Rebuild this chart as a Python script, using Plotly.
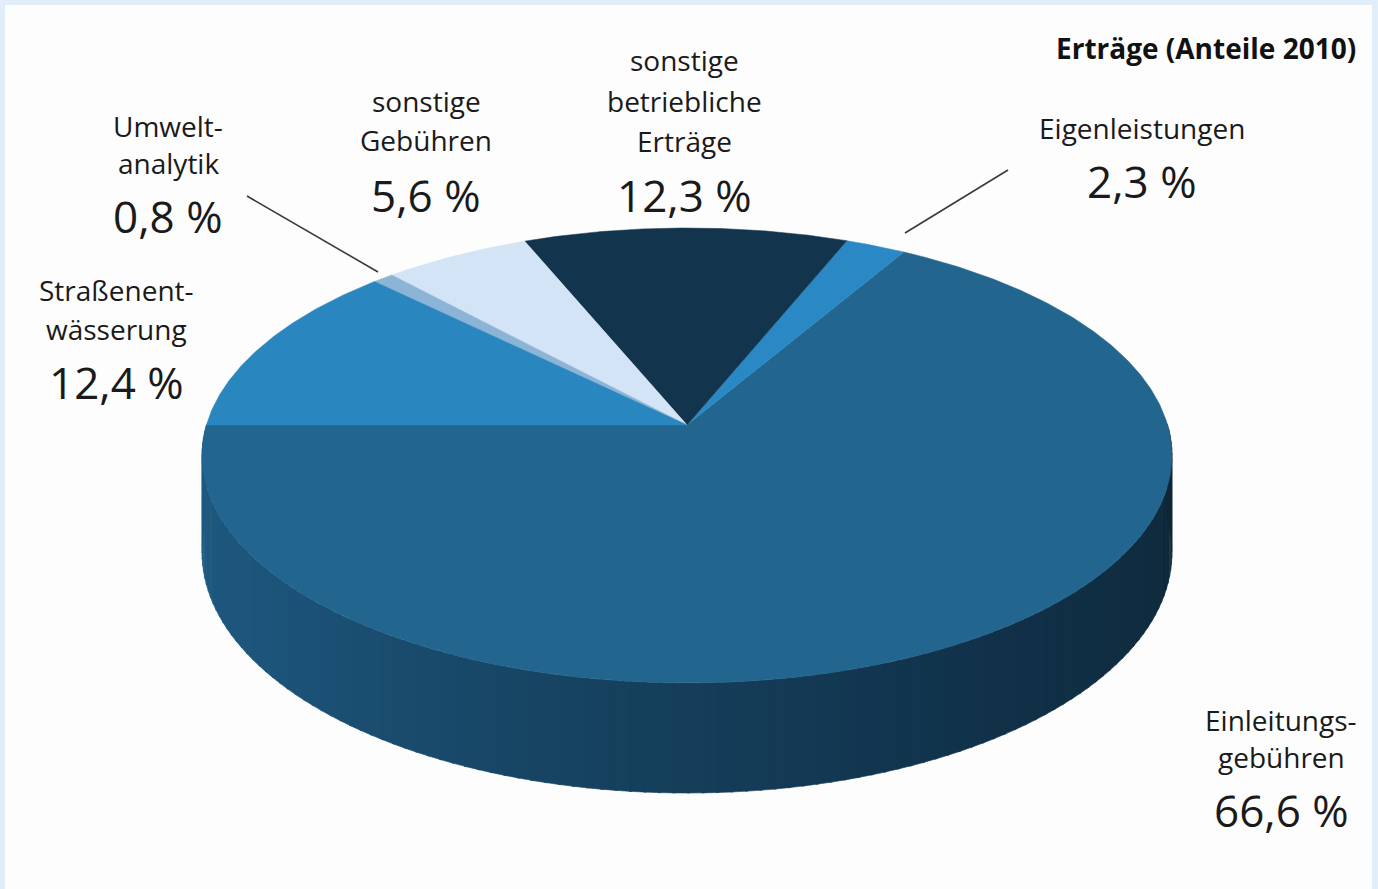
import numpy as np
import plotly.graph_objects as go

# Revenue shares 2010 (percent), in drawing order starting at 9 o'clock, running through the front
categories = ["Einleitungsgebühren", "Eigenleistungen", "sonstige betriebliche Erträge",
              "sonstige Gebühren", "Umweltanalytik", "Straßenentwässerung"]
shares = [66.6, 2.3, 12.3, 5.6, 0.8, 12.4]
label_lines = [["Einleitungs-", "gebühren"], ["Eigenleistungen"],
               ["sonstige", "betriebliche", "Erträge"], ["sonstige", "Gebühren"],
               ["Umwelt-", "analytik"], ["Straßenent-", "wässerung"]]
top_colors = ["#22658f", "#2a89c4", "#12344d", "#d3e4f7", "#8cb4d7", "#2a86be"]
title_text = "Erträge (Anteile 2010)"

W, H = 1378, 889
# Projected disc: centre, radii, perspective factor and thickness
CX, CY = 687.0, 425.0
SX, SY = 480.6, 223.4
K = 0.134
DEPTH = 95.3
START = 180.0


def project(theta_deg, drop=0.0):
    t = np.radians(theta_deg)
    u, v = np.cos(t), np.sin(t)
    w = 1 + K * v
    return CX + SX * u / w, CY - SY * v / w + drop / w


def mix(c1, c2, f):
    a = [int(c1[i:i + 2], 16) for i in (1, 3, 5)]
    b = [int(c2[i:i + 2], 16) for i in (1, 3, 5)]
    return "#%02x%02x%02x" % tuple(round(a[i] + (b[i] - a[i]) * f) for i in range(3))


fig = go.Figure()

# Rim of the disc, shaded from left to right
side_stops = [(180, "#1f5c83"), (220, "#1c5379"), (260, "#16425f"), (300, "#11324b"), (360, "#0e2636")]
n_strips = 120
edges = np.linspace(180, 360, n_strips + 1)
for a0, a1 in zip(edges[:-1], edges[1:]):
    mid = (a0 + a1) / 2
    for (t0, c0), (t1, c1) in zip(side_stops[:-1], side_stops[1:]):
        if t0 <= mid <= t1:
            col = mix(c0, c1, (mid - t0) / (t1 - t0))
            break
    th = np.linspace(a0, a1 + 0.3, 4)
    xt, yt = project(th)
    xb, yb = project(th[::-1], DEPTH)
    fig.add_trace(go.Scatter(x=np.r_[xt, xb], y=np.r_[yt, yb], mode="lines", fill="toself",
                             fillcolor=col, line=dict(color=col, width=0.6),
                             hoverinfo="skip", showlegend=False))

# Top face slices
angle = START
for name, val, col in zip(categories, shares, top_colors):
    span = val / 100 * 360
    th = np.linspace(angle, angle + span, max(int(span * 2), 4))
    xa, ya = project(th)
    fig.add_trace(go.Scatter(x=np.r_[CX, xa, CX], y=np.r_[CY, ya, CY], mode="lines", fill="toself",
                             fillcolor=col, line=dict(color=col, width=0.5),
                             name=name, hoverinfo="skip", showlegend=False))
    angle += span

# Label positions (pixel centres of each text block) and leader lines
label_pos = [(1281, [720, 757], 810), (1142, [128], 181), (684, [60, 101, 141], 195),
             (426, [101, 140], 195), (168, [126, 163], 216), (116, [290, 329], 382)]
leaders = {"Umweltanalytik": ((247, 196), (378, 272)),
           "Eigenleistungen": ((1008, 170), (905, 233))}

FONT = "Open Sans, Lato, sans-serif"
annotations = []
for name, val, lines, (lx, ly_list, py) in zip(categories, shares, label_lines, label_pos):
    for txt, ly in zip(lines, ly_list):
        annotations.append(dict(x=lx, y=ly, text=txt, showarrow=False, xanchor="center",
                                yanchor="middle", font=dict(family=FONT, size=28, color="#1a1a1a")))
    pct = f"{val:.1f} %".replace(".", ",")
    annotations.append(dict(x=lx, y=py, text=pct, showarrow=False, xanchor="center",
                            yanchor="middle", font=dict(family=FONT, size=44, color="#1a1a1a")))

annotations.append(dict(x=1206, y=48, text=f"<b>{title_text}</b>", showarrow=False,
                        xanchor="center", yanchor="middle",
                        font=dict(family=FONT, size=28, color="#111111")))

shapes = [dict(type="rect", xref="x", yref="y", x0=5, x1=W - 6, y0=5, y1=H + 5,
               fillcolor="#fdfdfd", line=dict(width=0), layer="below")]
for (p0, p1) in leaders.values():
    shapes.append(dict(type="line", xref="x", yref="y", x0=p0[0], y0=p0[1], x1=p1[0], y1=p1[1],
                       line=dict(color="#3a3a3a", width=1.6)))

fig.update_layout(
    width=W, height=H, margin=dict(l=0, r=0, t=0, b=0),
    paper_bgcolor="#dfeef9", plot_bgcolor="rgba(0,0,0,0)",
    xaxis=dict(range=[0, W], visible=False, fixedrange=True),
    yaxis=dict(range=[H, 0], visible=False, fixedrange=True),
    annotations=annotations, shapes=shapes, showlegend=False,
)

fig.write_html("out.html", config={"displayModeBar": False})
